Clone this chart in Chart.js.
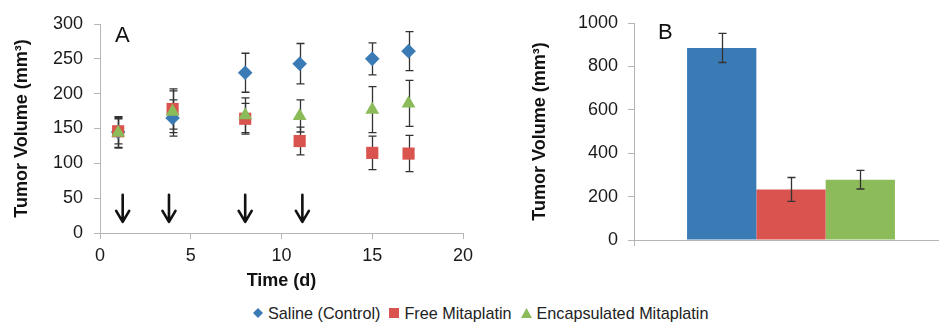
<!DOCTYPE html>
<html>
<head>
<meta charset="utf-8">
<script src="https://cdn.jsdelivr.net/npm/chart.js@4/dist/chart.umd.min.js"></script>
<style>
  html, body { margin: 0; padding: 0; background: #fff; overflow: hidden; }
  body { width: 939px; height: 324px; position: relative; font-family: "Liberation Sans", Arial, sans-serif; }
  #wrapA { position: absolute; left: 0; top: 0; width: 480px; height: 292px; }
  #wrapB { position: absolute; left: 520px; top: 0; width: 428px; height: 292px; }
  .panel { position: absolute; font-size: 22px; line-height: 22px; color: #111; }
  #legend { position: absolute; left: 253px; top: 303px; display: flex; align-items: center;
            font-size: 16.2px; line-height: 20px; color: #222; white-space: nowrap; }
  #legend svg { margin-right: 5px; }
  #legend span { margin-right: 9px; }
</style>
</head>
<body>
<div id="wrapA"><canvas id="chartA"></canvas></div>
<div id="wrapB"><canvas id="chartB"></canvas></div>
<div class="panel" style="left:115px; top:24px;">A</div>
<div class="panel" style="left:658px; top:21px;">B</div>
<div id="legend">
  <svg width="10" height="10"><polygon points="5,0 10,5 5,10 0,5" fill="#3b7bb5"/></svg><span>Saline (Control)</span>
  <svg width="10" height="10"><rect width="10" height="10" fill="#d9534f"/></svg><span>Free Mitaplatin</span>
  <svg width="11" height="10"><polygon points="5.5,0 11,10 0,10" fill="#8cbb5a"/></svg><span>Encapsulated Mitaplatin</span>
</div>
<script>
// panel A: tumour volume over time
const days = [1, 4, 8, 11, 15, 17];
const salineMean = [145, 165, 230, 243, 250, 261];
const salineErr = [22, 26, 28, 29, 23, 28];
const freeMean = [146, 178, 164, 132, 115, 114];
const freeErr = [18, 29, 22, 20, 24, 26];
const encapMean = [144, 174, 169, 168, 177, 186];
const encapErr = [22, 30, 25, 23, 33, 33];
// dosing days (arrows)
const doseDays = [1.25, 3.8, 8.0, 11.15];
const arrowFrom = 55;
const arrowTo = 16;

// panel B: final tumour volume
const groups = ["Saline (Control)", "Free Mitaplatin", "Encapsulated Mitaplatin"];
const finalMean = [885, 233, 278];
const finalErr = [67, 55, 43];

const colors = ["#3b7bb5", "#d9534f", "#8cbb5a"];
const axisGray = "#b5b5b5";
const tickFont = { family: "Liberation Sans", size: 18 };
const titleFont = { family: "Liberation Sans", size: 18, weight: "bold" };

Chart.defaults.animation = false;
Chart.defaults.plugins.legend.display = false;
Chart.defaults.plugins.tooltip.enabled = false;

const errorBars = {
  id: "errorBars",
  beforeDatasetsDraw(chart) {
    const ctx = chart.ctx;
    const y = chart.scales.y;
    ctx.save();
    ctx.strokeStyle = "#333";
    ctx.lineWidth = 1.3;
    chart.data.datasets.forEach((ds, i) => {
      if (!ds.errors) return;
      const meta = chart.getDatasetMeta(i);
      meta.data.forEach((el, j) => {
        const v = typeof ds.data[j] === "object" ? ds.data[j].y : ds.data[j];
        const top = y.getPixelForValue(v + ds.errors[j]);
        const bot = y.getPixelForValue(v - ds.errors[j]);
        const x = Math.round(el.x) + 0.5;
        ctx.beginPath();
        ctx.moveTo(x, top); ctx.lineTo(x, bot);
        ctx.moveTo(x - 4, top); ctx.lineTo(x + 4, top);
        ctx.moveTo(x - 4, bot); ctx.lineTo(x + 4, bot);
        ctx.stroke();
      });
    });
    ctx.restore();
  }
};

// bars get their error bars on top
const errorBarsTop = {
  id: "errorBarsTop",
  afterDatasetsDraw(chart) { errorBars.beforeDatasetsDraw(chart); }
};

const arrows = {
  id: "arrows",
  afterDatasetsDraw(chart) {
    const ctx = chart.ctx;
    const { x, y } = chart.scales;
    ctx.save();
    ctx.strokeStyle = "#111";
    ctx.lineWidth = 2.6;
    ctx.lineCap = "round";
    ctx.lineJoin = "round";
    doseDays.forEach(d => {
      const px = x.getPixelForValue(d);
      const y0 = y.getPixelForValue(arrowFrom);
      const y1 = y.getPixelForValue(arrowTo);
      ctx.beginPath();
      ctx.moveTo(px, y0); ctx.lineTo(px, y1);
      ctx.moveTo(px - 6.5, y1 - 11); ctx.lineTo(px, y1); ctx.lineTo(px + 6.5, y1 - 11);
      ctx.stroke();
    });
    ctx.restore();
  }
};

function pts(ys) {
  return days.map((d, i) => ({ x: d, y: ys[i] }));
}

new Chart(document.getElementById("chartA"), {
  type: "scatter",
  data: {
    datasets: [
      { label: groups[0], data: pts(salineMean), errors: salineErr, backgroundColor: colors[0],
        pointStyle: "rectRot", pointRadius: 7.3, borderWidth: 0, order: 2 },
      { label: groups[1], data: pts(freeMean), errors: freeErr, backgroundColor: colors[1],
        pointStyle: "rect", pointRadius: 8.6, borderWidth: 0, order: 1 },
      { label: groups[2], data: pts(encapMean), errors: encapErr, backgroundColor: colors[2],
        pointStyle: "triangle", pointRadius: 8, borderWidth: 0, order: 0 }
    ]
  },
  options: {
    responsive: true,
    maintainAspectRatio: false,
    layout: { padding: { top: 24, right: 17, left: 0, bottom: 0 } },
    scales: {
      x: {
        type: "linear", min: 0, max: 20,
        ticks: { stepSize: 5, font: tickFont, color: "#1a1a1a", padding: 6 },
        grid: { drawOnChartArea: false, tickLength: 6, color: axisGray },
        border: { color: axisGray },
        title: { display: true, text: "Time (d)", font: titleFont, color: "#111", padding: { top: 0, bottom: 0 } },
        afterFit(s) { s.height = 59; }
      },
      y: {
        min: 0, max: 300,
        ticks: { stepSize: 50, font: tickFont, color: "#1a1a1a", padding: 11 },
        grid: { drawOnChartArea: false, tickLength: 6, color: axisGray },
        border: { color: axisGray },
        title: { display: true, text: "Tumor Volume (mm³)", font: titleFont, color: "#111", padding: { top: 11, bottom: 0 } },
        afterFit(s) { s.width = 100; }
      }
    }
  },
  plugins: [errorBars, arrows]
});

new Chart(document.getElementById("chartB"), {
  type: "bar",
  data: {
    labels: [""],
    datasets: groups.map((g, i) => ({
      label: g, data: [finalMean[i]], errors: [finalErr[i]],
      backgroundColor: colors[i], borderWidth: 0
    }))
  },
  options: {
    responsive: true,
    maintainAspectRatio: false,
    layout: { padding: { top: 23, right: 0, left: 0, bottom: 0 } },
    datasets: { bar: { categoryPercentage: 0.662, barPercentage: 1 } },
    scales: {
      x: {
        ticks: { display: false },
        grid: { drawOnChartArea: false, tickLength: 6, color: axisGray, offset: true },
        border: { color: axisGray },
        afterFit(s) { s.height = 52; }
      },
      y: {
        min: 0, max: 1000,
        ticks: { stepSize: 200, font: tickFont, color: "#1a1a1a", padding: 10, callback: v => String(v) },
        grid: { drawOnChartArea: false, tickLength: 6, color: axisGray },
        border: { color: axisGray },
        title: { display: true, text: "Tumor Volume (mm³)", font: titleFont, color: "#111", padding: { top: 9, bottom: 0 } },
        afterFit(s) { s.width = 114; }
      }
    }
  },
  plugins: [errorBarsTop]
});
</script>
</body>
</html>
